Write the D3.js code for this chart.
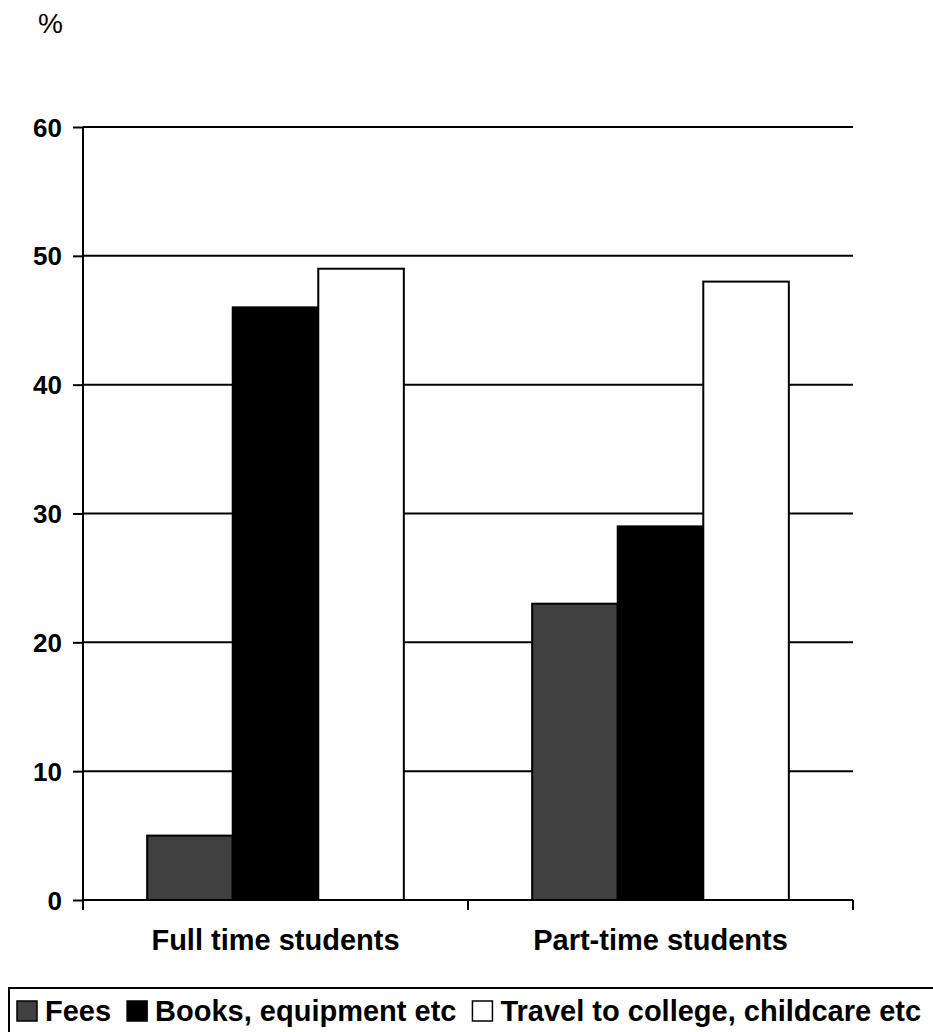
<!DOCTYPE html>
<html>
<head>
<meta charset="utf-8">
<script src="https://cdn.jsdelivr.net/npm/d3@7"></script>
<style>
  html, body { margin: 0; padding: 0; background: #fff; overflow: hidden; }
  svg { display: block; }
  text { font-family: "Liberation Sans", Arial, sans-serif; fill: #000; }
</style>
</head>
<body>
<script>
const categories = ["Full time students", "Part-time students"];
const seriesNames = ["Fees", "Books, equipment etc", "Travel to college, childcare etc"];
const fees = [5, 23];
const books = [46, 29];
const travel = [49, 48];
const seriesColors = ["#404040", "#000000", "#ffffff"];
const yTicks = [0, 10, 20, 30, 40, 50, 60];

const seriesValues = [fees, books, travel];
const W = 933, H = 1032;
const svg = d3.select("body").append("svg").attr("width", W).attr("height", H);

const x = d3.scaleBand().domain(categories).range([83, 853]).paddingInner(0).paddingOuter(0);
const xs = d3.scaleBand().domain(seriesNames).range([0, x.bandwidth()]).paddingInner(0).paddingOuter(0.75);
const y = d3.scaleLinear().domain([0, 60]).range([900, 127]);

// gridlines
svg.append("g").selectAll("line").data(yTicks.filter(d => d > 0)).join("line")
  .attr("x1", 83).attr("x2", 853)
  .attr("y1", d => y(d)).attr("y2", d => y(d))
  .attr("stroke", "#000").attr("stroke-width", 2);

// bars
const rows = [];
categories.forEach((c, i) => seriesNames.forEach((s, j) => rows.push({c, s, j, v: seriesValues[j][i]})));
svg.append("g").selectAll("rect").data(rows).join("rect")
  .attr("x", d => x(d.c) + xs(d.s))
  .attr("y", d => y(d.v))
  .attr("width", xs.bandwidth())
  .attr("height", d => y(0) - y(d.v))
  .attr("fill", d => seriesColors[d.j])
  .attr("stroke", "#000").attr("stroke-width", 2);

// y axis
const yAxis = d3.axisLeft(y).tickValues(yTicks).tickSize(10).tickPadding(11).tickFormat(d3.format("d"));
const gy = svg.append("g").attr("transform", "translate(83,0)").call(yAxis);
gy.select(".domain").remove();
gy.selectAll(".tick line").attr("stroke", "#000").attr("stroke-width", 2);
gy.selectAll(".tick text").attr("font-size", 26).attr("font-weight", "bold")
  .attr("font-family", "'Liberation Sans', Arial, sans-serif").attr("fill", "#000").attr("dy", "0.35em");
gy.append("line").attr("x1", 0).attr("x2", 0).attr("y1", y(60)).attr("y2", y(0) + 10)
  .attr("stroke", "#000").attr("stroke-width", 2);

// x axis
const gx = svg.append("g").attr("transform", `translate(0,${y(0)})`);
gx.append("line").attr("x1", 83).attr("x2", 853).attr("y1", 0).attr("y2", 0)
  .attr("stroke", "#000").attr("stroke-width", 2);
const bounds = [x(categories[0]), x(categories[1]), x(categories[1]) + x.bandwidth()];
gx.selectAll("line.tk").data(bounds).join("line").attr("class", "tk")
  .attr("x1", d => d).attr("x2", d => d).attr("y1", 0).attr("y2", 10)
  .attr("stroke", "#000").attr("stroke-width", 2);
gx.selectAll("text").data(categories).join("text")
  .attr("x", d => x(d) + x.bandwidth() / 2).attr("y", 50)
  .attr("text-anchor", "middle").attr("font-size", 29).attr("font-weight", "bold")
  .text(d => d);

// % label
svg.append("text").attr("x", 38).attr("y", 33).attr("font-size", 28).text("%");

// legend
const lg = svg.append("g");
lg.append("rect").attr("x", 9).attr("y", 988).attr("width", 940).attr("height", 80)
  .attr("fill", "#fff").attr("stroke", "#000").attr("stroke-width", 2);
let lx = 17;
seriesNames.forEach((s, j) => {
  lg.append("rect").attr("x", lx).attr("y", 1001).attr("width", 20).attr("height", 20)
    .attr("fill", seriesColors[j]).attr("stroke", "#000").attr("stroke-width", 1.5);
  const t = lg.append("text").attr("x", lx + 28).attr("y", 1021)
    .attr("font-size", 29).attr("font-weight", "bold").text(s);
  lx = lx + 28 + t.node().getComputedTextLength() + 16;
});
</script>
</body>
</html>
